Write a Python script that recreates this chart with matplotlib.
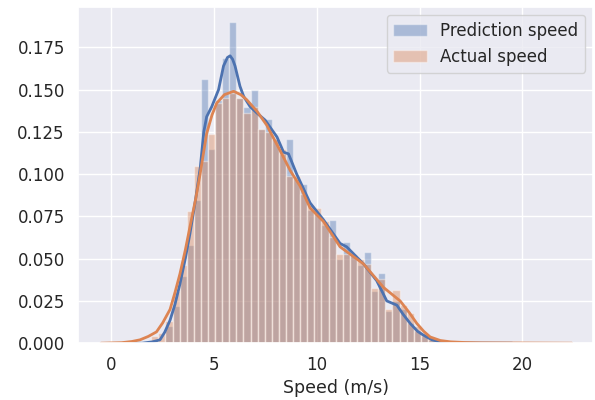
import numpy as np
import matplotlib
matplotlib.use("Agg")
import matplotlib.pyplot as plt
import seaborn as sns

# histogram bins (left edge of first bin, bin width)
bin_start = 1.945
bin_width = 0.345

pred_hist = [0.000, 0.001, 0.010, 0.022, 0.040, 0.058, 0.085, 0.156, 0.115, 0.144,
             0.169, 0.190, 0.145, 0.140, 0.1495, 0.127, 0.1325, 0.121, 0.112, 0.121,
             0.097, 0.094, 0.079, 0.077, 0.070, 0.073, 0.050, 0.060, 0.052, 0.046,
             0.054, 0.031, 0.0417, 0.019, 0.025, 0.020, 0.012, 0.007, 0.004, 0.002,
             0.001, 0.0005]

actual_hist = [0.004, 0.006, 0.013, 0.031, 0.046, 0.078, 0.105, 0.108, 0.124, 0.142,
               0.145, 0.148, 0.145, 0.136, 0.140, 0.127, 0.125, 0.121, 0.115, 0.099,
               0.099, 0.088, 0.082, 0.080, 0.072, 0.063, 0.053, 0.053, 0.053, 0.050,
               0.047, 0.0324, 0.038, 0.020, 0.0314, 0.0225, 0.018, 0.010, 0.006, 0.003,
               0.002, 0.001]

# kde curves
pred_kde_x = [0.8, 1.5, 2.0, 2.37, 2.6, 2.86, 3.1, 3.34, 3.6, 3.83, 4.1, 4.33, 4.5, 4.64,
              4.89, 5.22, 5.46, 5.65, 5.78, 5.9, 6.02, 6.26, 6.44, 6.75, 7.1, 7.48, 8.06,
              8.38, 8.62, 9.02, 9.67, 10.32, 11.13, 11.45, 12.26, 12.91, 13.40, 13.89,
              14.2, 14.54, 14.9, 15.19, 15.6, 16.0, 16.5, 17.0, 19.5]
pred_kde_y = [0.0, 0.0, 0.0008, 0.002, 0.0065, 0.0136, 0.023, 0.035, 0.050, 0.065, 0.085,
              0.104, 0.125, 0.134, 0.140, 0.150, 0.164, 0.169, 0.170, 0.168, 0.164, 0.152,
              0.146, 0.140, 0.136, 0.132, 0.122, 0.113, 0.112, 0.100, 0.083, 0.073, 0.059,
              0.057, 0.047, 0.037, 0.025, 0.0225, 0.017, 0.0117, 0.007, 0.0047, 0.002,
              0.0008, 0.0003, 0.0001, 0.0]

actual_kde_x = [-0.5, 0.5, 1.0, 1.4, 1.8, 2.2, 2.5, 2.86, 3.1, 3.34, 3.6, 3.83, 4.1, 4.32,
                4.64, 4.9, 5.13, 5.5, 5.95, 6.3, 6.59, 7.1, 7.56, 8.21, 8.71, 9.18, 9.67,
                10.32, 11.13, 12.26, 13.24, 14.05, 14.5, 14.86, 15.2, 15.51, 16.0, 16.5,
                17.2, 18.0, 20.0, 22.4]
actual_kde_y = [0.0, 0.0003, 0.001, 0.002, 0.004, 0.0067, 0.012, 0.020, 0.030, 0.041,
                0.055, 0.069, 0.085, 0.100, 0.124, 0.135, 0.142, 0.147, 0.149, 0.147,
                0.144, 0.137, 0.129, 0.114, 0.102, 0.093, 0.080, 0.072, 0.057, 0.047,
                0.033, 0.025, 0.018, 0.0117, 0.007, 0.0037, 0.0016, 0.0008, 0.0004,
                0.0002, 0.0001, 0.0]

sns.set_theme()
blue, orange = sns.color_palette()[0], sns.color_palette()[1]

fig, ax = plt.subplots(figsize=(5.95, 4.0), dpi=100)
fig.subplots_adjust(left=0.131, right=0.997, top=0.983, bottom=0.142)

edges = bin_start + bin_width * np.arange(len(pred_hist))
ax.bar(edges, pred_hist, width=bin_width, align="edge", color=blue, alpha=0.4,
       edgecolor="white", linewidth=1, label="Prediction speed")
ax.bar(edges, actual_hist, width=bin_width, align="edge", color=orange, alpha=0.4,
       edgecolor="white", linewidth=1, label="Actual speed")
ax.plot(pred_kde_x, pred_kde_y, color=blue, lw=2, solid_joinstyle="round")
ax.plot(actual_kde_x, actual_kde_y, color=orange, lw=2, solid_joinstyle="round")

ax.set_xlim(-1.62, 23.44)
ax.set_ylim(0, 0.199)
ax.set_xticks([0, 5, 10, 15, 20])
ax.set_yticks(np.arange(0, 0.176, 0.025))
ax.yaxis.set_major_formatter(matplotlib.ticker.FormatStrFormatter("%.3f"))
ax.tick_params(labelsize=12)
ax.set_xlabel("Speed (m/s)", fontsize=12.5, labelpad=3)
ax.legend(loc="upper right", fontsize=12)

fig.savefig("out.png")
